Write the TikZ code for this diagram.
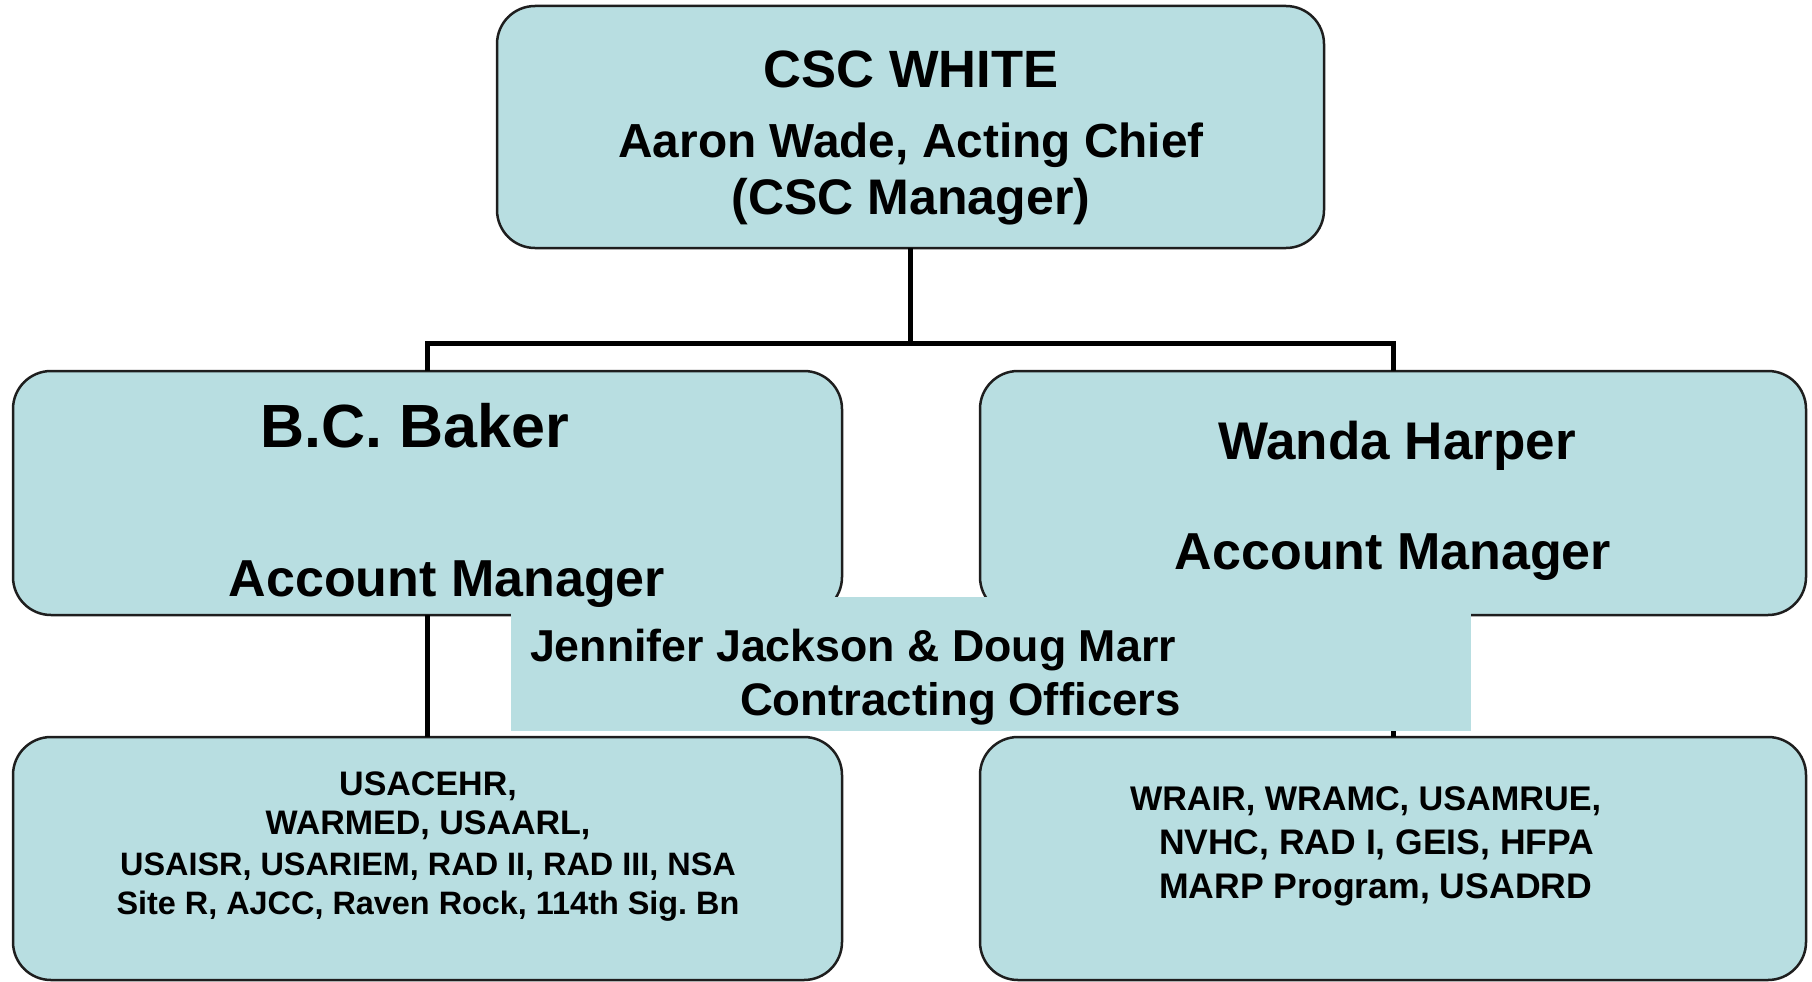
\documentclass[tikz,border=0pt]{standalone}
\usepackage{fontspec}
\setmainfont{Liberation Sans}
\frenchspacing
\definecolor{boxfill}{RGB}{184,222,225}
\definecolor{boxline}{RGB}{30,30,30}
\tikzset{
  orgbox/.style={draw=boxline, line width=2.5pt, fill=boxfill, rounded corners=38pt, inner sep=0pt, outer sep=0pt},
  cobox/.style={fill=boxfill, inner sep=0pt, outer sep=0pt},
  conn/.style={draw=black, line width=5pt},
  txt/.style={inner sep=0pt, outer sep=0pt, font=\bfseries, anchor=base},
  txtw/.style={inner sep=0pt, outer sep=0pt, font=\bfseries, anchor=base west},
}
\newcommand{\fs}[1]{\fontsize{#1}{#1}\selectfont}
\begin{document}
\begin{tikzpicture}[x=1pt,y=-1pt]
\useasboundingbox (0,0) rectangle (1812,982);
% boxes
\node[orgbox, minimum width=827pt, minimum height=242pt] (top) at (910.5,127) {};
\node[orgbox, minimum width=829pt, minimum height=244pt] (lm) at (427.5,493) {};
\node[orgbox, minimum width=826pt, minimum height=244pt] (rm) at (1393,493) {};
\node[orgbox, minimum width=829pt, minimum height=243pt] (bl) at (427.5,858.5) {};
\node[orgbox, minimum width=826pt, minimum height=243pt] (br) at (1393,858.5) {};
% connectors
\coordinate (jn) at (top.south |- 0,343);
\draw[conn] (top.south) -- (jn);
\draw[conn] (lm.north) |- (jn) -| (rm.north);
\draw[conn] (lm.south) -- (bl.north);
\draw[conn] (rm.south) -- (br.north);
% contracting officers box
\node[cobox, minimum width=960pt, minimum height=134pt] (co) at (991,664) {};
% texts
\node[txt] (t1) at (911,88) {\fs{52.5}CSC WHITE};
\node[txt] (t2) at (911,157) {\fs{47.8}Aaron Wade, Acting Chief};
\node[txt] (t3) at (911,214) {\fs{50}(CSC Manager)};
\node[txt] (l1) at (415,447) {\fs{61}B.C. Baker};
\node[txt] (l2) at (447,596) {\fs{52}Account Manager};
\node[txt] (r1) at (1397,459) {\fs{53}Wanda Harper};
\node[txt] (r2) at (1393,569) {\fs{52}Account Manager};
\node[txtw] (c1) at (530,661) {\fs{44.7}Jennifer Jackson \& Doug Marr};
\node[txtw] (c2) at (740,715) {\fs{45.6}Contracting Officers};
\node[txt] (b1) at (428,795) {\fs{34}USACEHR,};
\node[txt] (b2) at (428,834) {\fs{34}WARMED, USAARL,};
\node[txt] (b3) at (428,875) {\fs{32.4}USAISR, USARIEM, RAD II, RAD III, NSA};
\node[txt] (b4) at (428,914) {\fs{32.4}Site R, AJCC, Raven Rock, 114th Sig. Bn};
\node[txtw] (d1) at (1130,810) {\fs{34.2}WRAIR, WRAMC, USAMRUE,};
\node[txtw] (d2) at (1159,854) {\fs{35.5}NVHC, RAD I, GEIS, HFPA};
\node[txtw] (d3) at (1159,898) {\fs{35.6}MARP Program, USADRD};
\end{tikzpicture}
\end{document}
